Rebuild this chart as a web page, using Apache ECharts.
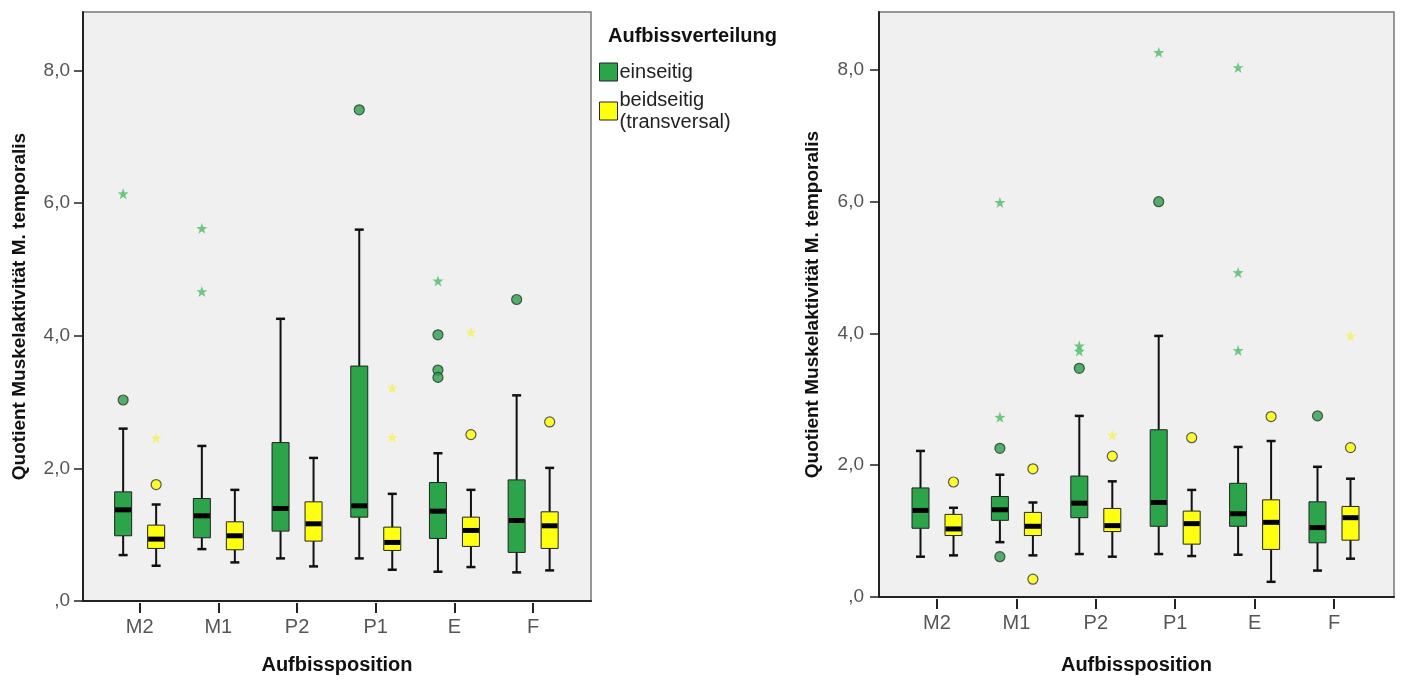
<!DOCTYPE html>
<html>
<head>
<meta charset="utf-8">
<script src="https://cdn.jsdelivr.net/npm/echarts@6/dist/echarts.min.js"></script>
<style>
  html, body { margin: 0; padding: 0; background: #ffffff; }
  #chart { width: 1402px; height: 680px; }
</style>
</head>
<body>
<div id="chart"></div>
<script>
// ---------- data ----------
const categories = ['M2', 'M1', 'P2', 'P1', 'E', 'F'];
const yTickValues = [0, 2, 4, 6, 8];
const groupNames = ['einseitig', 'beidseitig\n(transversal)'];

// [min whisker, Q1, median, Q3, max whisker] per category
const leftEinseitigBox = [
  [0.72, 1.01, 1.40, 1.67, 2.62],
  [0.81, 0.98, 1.31, 1.57, 2.36],
  [0.67, 1.08, 1.42, 2.41, 4.27],
  [0.67, 1.29, 1.46, 3.56, 5.61],
  [0.47, 0.97, 1.38, 1.81, 2.25],
  [0.46, 0.76, 1.24, 1.85, 3.12]
];
const leftBeidseitigBox = [
  [0.56, 0.82, 0.96, 1.17, 1.48],
  [0.61, 0.80, 1.01, 1.22, 1.70],
  [0.55, 0.93, 1.19, 1.52, 2.18],
  [0.50, 0.79, 0.91, 1.14, 1.64],
  [0.54, 0.85, 1.09, 1.29, 1.70],
  [0.49, 0.82, 1.16, 1.37, 2.03]
];
// [category index, value]
const leftEinseitigCircles = [[0, 3.05], [3, 7.41], [4, 4.03], [4, 3.50], [4, 3.39], [5, 4.56]];
const leftEinseitigStars = [[0, 6.15], [1, 5.63], [1, 4.68], [4, 4.84]];
const leftBeidseitigCircles = [[0, 1.78], [4, 2.53], [5, 2.72]];
const leftBeidseitigStars = [[0, 2.48], [3, 3.23], [3, 2.49], [4, 4.07]];

const rightEinseitigBox = [
  [0.64, 1.07, 1.34, 1.68, 2.24],
  [0.86, 1.19, 1.35, 1.55, 1.88],
  [0.68, 1.23, 1.45, 1.86, 2.77],
  [0.68, 1.10, 1.46, 2.56, 3.98],
  [0.67, 1.10, 1.29, 1.75, 2.30],
  [0.43, 0.85, 1.08, 1.47, 2.00]
];
const rightBeidseitigBox = [
  [0.66, 0.96, 1.06, 1.28, 1.38],
  [0.66, 0.96, 1.10, 1.31, 1.46],
  [0.64, 1.02, 1.11, 1.37, 1.78],
  [0.65, 0.83, 1.14, 1.33, 1.65],
  [0.26, 0.75, 1.16, 1.50, 2.39],
  [0.61, 0.89, 1.23, 1.40, 1.82]
];
const rightEinseitigCircles = [[1, 2.28], [1, 0.64], [2, 3.49], [3, 6.01], [5, 2.77]];
const rightEinseitigStars = [[1, 2.75], [1, 6.00], [2, 3.83], [2, 3.75], [3, 8.27], [4, 3.76], [4, 4.94], [4, 8.04]];
const rightBeidseitigCircles = [[0, 1.77], [1, 1.97], [1, 0.30], [2, 2.16], [3, 2.44], [4, 2.76], [5, 2.29]];
const rightBeidseitigStars = [[2, 2.48], [5, 3.98]];

// ---------- styling ----------
const FONT = '"Liberation Sans", Arial, sans-serif';
const GREEN = '#2ba44a';
const YELLOW = '#ffff10';
const Y_MAX = 8.88;
const OFFSET = 16.5;
const STAR = 'path://M0,-10L2.35,-3.24L9.51,-3.09L3.8,1.24L5.88,8.09L0,4L-5.88,8.09L-3.8,1.24L-9.51,-3.09L-2.35,-3.24Z';

function makeRender(offset, fill) {
  return function (params, api) {
    const c = api.value(0);
    const pMin = api.coord([c, api.value(1)]);
    const pQ1 = api.coord([c, api.value(2)]);
    const pMed = api.coord([c, api.value(3)]);
    const pQ3 = api.coord([c, api.value(4)]);
    const pMax = api.coord([c, api.value(5)]);
    const x = pMin[0] + offset, hw = 8.5, cw = 4.5;
    const ls = { stroke: '#111', lineWidth: 2 };
    return {
      type: 'group',
      children: [
        { type: 'line', shape: { x1: x, y1: pMax[1], x2: x, y2: pQ3[1] }, style: ls },
        { type: 'line', shape: { x1: x, y1: pQ1[1], x2: x, y2: pMin[1] }, style: ls },
        { type: 'line', shape: { x1: x - cw, y1: pMax[1], x2: x + cw, y2: pMax[1] }, style: { stroke: '#111', lineWidth: 2.5 } },
        { type: 'line', shape: { x1: x - cw, y1: pMin[1], x2: x + cw, y2: pMin[1] }, style: { stroke: '#111', lineWidth: 2.5 } },
        { type: 'rect', shape: { x: x - hw, y: pQ3[1], width: 2 * hw, height: pQ1[1] - pQ3[1] },
          style: { fill: fill, stroke: '#222', lineWidth: 1 } },
        { type: 'line', shape: { x1: x - hw + 0.5, y1: pMed[1], x2: x + hw - 0.5, y2: pMed[1] },
          style: { stroke: '#000', lineWidth: 5 } }
      ]
    };
  };
}

function boxData(arr) { return arr.map((d, i) => [i].concat(d)); }

function chartSeries(xIdx, yIdx, greenBox, yellowBox, gC, gS, yC, yS) {
  return [
    { type: 'custom', name: groupNames[0], xAxisIndex: xIdx, yAxisIndex: yIdx,
      itemStyle: { color: GREEN }, renderItem: makeRender(-OFFSET, GREEN),
      encode: { x: 0, y: [1, 2, 3, 4, 5] }, data: boxData(greenBox), z: 3 },
    { type: 'custom', name: groupNames[1], xAxisIndex: xIdx, yAxisIndex: yIdx,
      itemStyle: { color: YELLOW }, renderItem: makeRender(OFFSET, YELLOW),
      encode: { x: 0, y: [1, 2, 3, 4, 5] }, data: boxData(yellowBox), z: 3 },
    { type: 'scatter', xAxisIndex: xIdx, yAxisIndex: yIdx, symbol: 'circle', symbolSize: 10,
      symbolOffset: [-OFFSET, 0], itemStyle: { color: '#2e9b4c', borderColor: '#1d3d24', borderWidth: 1.2 },
      data: gC, z: 4, silent: true },
    { type: 'scatter', xAxisIndex: xIdx, yAxisIndex: yIdx, symbol: STAR, symbolSize: 11,
      symbolOffset: [-OFFSET, 0], itemStyle: { color: '#4cbd66' },
      data: gS, z: 4, silent: true },
    { type: 'scatter', xAxisIndex: xIdx, yAxisIndex: yIdx, symbol: 'circle', symbolSize: 10,
      symbolOffset: [OFFSET, 0], itemStyle: { color: '#ffff00', borderColor: '#333', borderWidth: 1.2 },
      data: yC, z: 4, silent: true },
    { type: 'scatter', xAxisIndex: xIdx, yAxisIndex: yIdx, symbol: STAR, symbolSize: 11,
      symbolOffset: [OFFSET, 0], itemStyle: { color: '#f3f35a' },
      data: yS, z: 4, silent: true }
  ];
}

function outerX(gridIndex, gap) {
  return {
    type: 'value', gridIndex: gridIndex, min: 0, max: 1,
    axisLine: { show: true, lineStyle: { color: '#222', width: 2 } },
    axisTick: { show: false }, axisLabel: { show: false }, splitLine: { show: false },
    name: 'Aufbissposition', nameLocation: 'middle', nameGap: gap,
    nameTextStyle: { fontFamily: FONT, fontSize: 20, fontWeight: 'bold', color: '#111' }
  };
}
function innerX(gridIndex) {
  return {
    type: 'category', gridIndex: gridIndex, data: categories,
    axisLine: { show: false },
    axisTick: { show: true, alignWithLabel: true, length: 10, lineStyle: { color: '#222', width: 2 } },
    axisLabel: { fontFamily: FONT, fontSize: 20, color: '#555', margin: 14 },
    splitLine: { show: false }
  };
}
function outerY(gridIndex, gap, margin) {
  return {
    type: 'value', gridIndex: gridIndex, min: 0, max: Y_MAX,
    axisLine: { show: true, lineStyle: { color: '#222', width: 2 } },
    axisTick: { show: true, length: 9, customValues: yTickValues, lineStyle: { color: '#222', width: 1.5 } },
    axisLabel: { fontFamily: FONT, fontSize: 19, color: '#555', margin: margin, customValues: yTickValues,
      formatter: v => v === 0 ? ',0' : v.toFixed(1).replace('.', ',') },
    splitLine: { show: false },
    name: 'Quotient Muskelaktivität M. temporalis', nameLocation: 'middle', nameGap: gap,
    nameTextStyle: { fontFamily: FONT, fontSize: 19, fontWeight: 'bold', color: '#111' }
  };
}
function innerY(gridIndex) {
  return { type: 'value', gridIndex: gridIndex, min: 0, max: Y_MAX, show: false };
}

const gridFrame = { show: true, backgroundColor: '#f0f0f0', borderColor: '#777', borderWidth: 1.5 };

const option = {
  animation: false,
  backgroundColor: '#ffffff',
  textStyle: { fontFamily: FONT },
  title: [{
    text: 'Aufbissverteilung', left: 603, top: 21,
    textStyle: { fontFamily: FONT, fontSize: 20, fontWeight: 'bold', color: '#111' }
  }],
  legend: {
    orient: 'vertical', left: 594, top: 56, icon: 'rect',
    itemWidth: 18, itemHeight: 18, itemGap: 6, selectedMode: false,
    data: groupNames,
    itemStyle: { borderColor: '#222', borderWidth: 1 },
    textStyle: { fontFamily: FONT, fontSize: 20, color: '#222', lineHeight: 22, padding: [0, 0, 0, -3] }
  },
  grid: [
    Object.assign({ left: 83, top: 12, width: 508, height: 591 }, gridFrame),
    { left: 100.3, top: 12, width: 472.2, height: 591 },
    Object.assign({ left: 879, top: 12, width: 515, height: 587 }, gridFrame),
    { left: 897.3, top: 12, width: 476.4, height: 587 }
  ],
  xAxis: [outerX(0, 54), innerX(1), outerX(2, 58), innerX(3)],
  yAxis: [outerY(0, 54, 13), innerY(1), outerY(2, 57, 15), innerY(3)],
  series: [].concat(
    chartSeries(1, 1, leftEinseitigBox, leftBeidseitigBox,
      leftEinseitigCircles, leftEinseitigStars, leftBeidseitigCircles, leftBeidseitigStars),
    chartSeries(3, 3, rightEinseitigBox, rightBeidseitigBox,
      rightEinseitigCircles, rightEinseitigStars, rightBeidseitigCircles, rightBeidseitigStars)
  )
};

const chart = echarts.init(document.getElementById('chart'), null, { renderer: 'canvas' });
chart.setOption(option);
</script>
</body>
</html>
